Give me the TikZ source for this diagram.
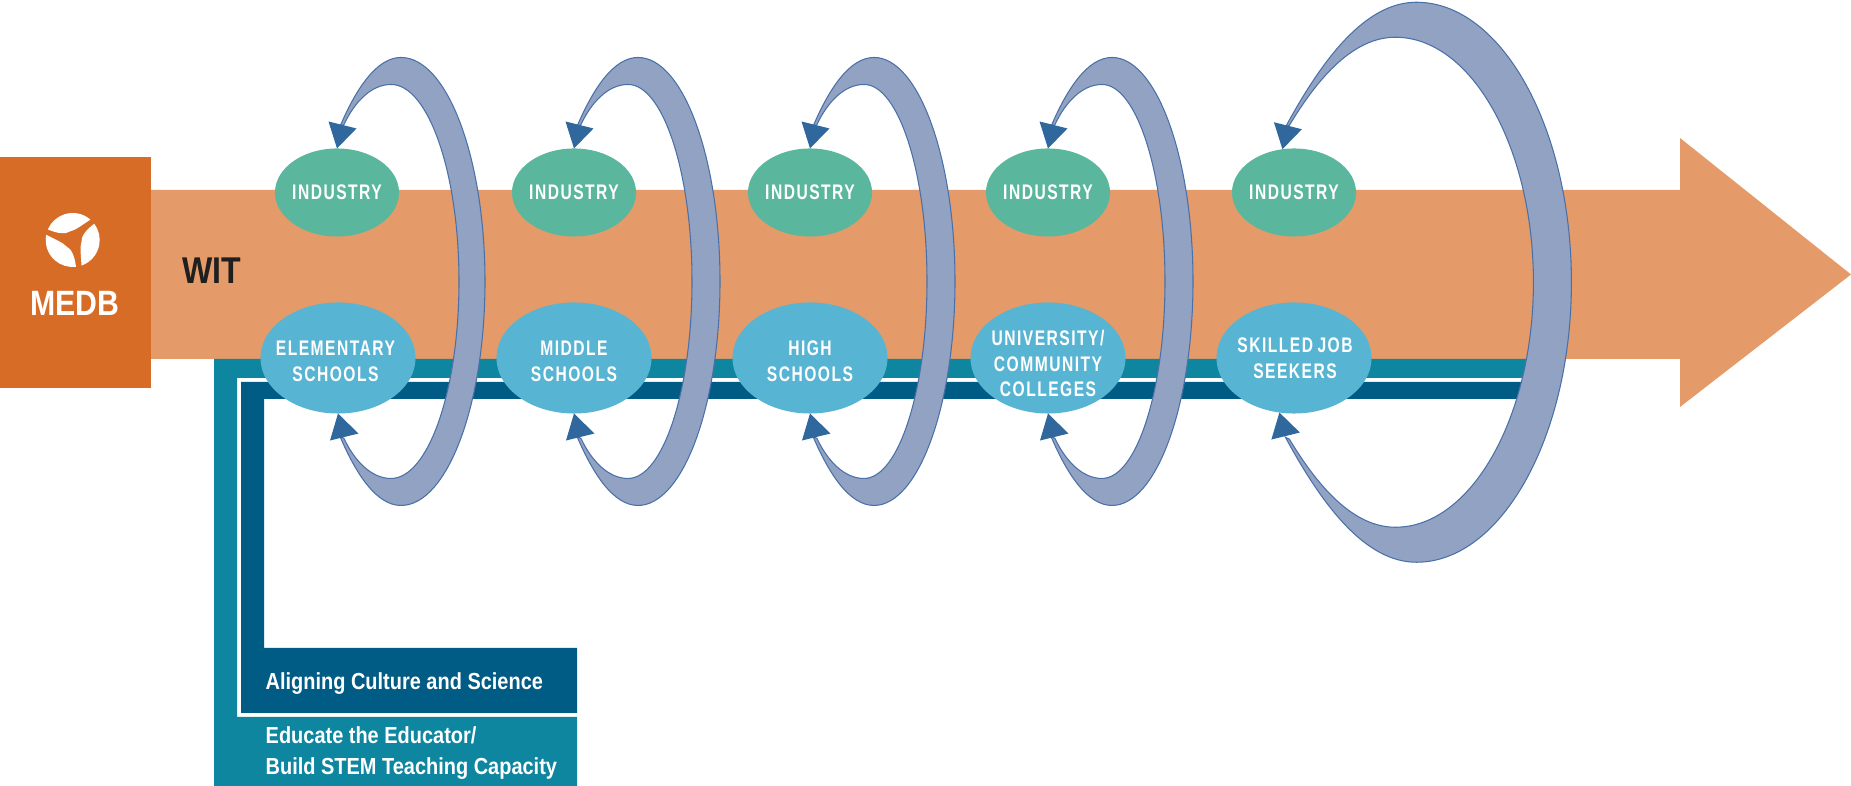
\documentclass[tikz,border=0pt]{standalone}
\usepackage{fontspec}
\setmainfont[FakeStretch=0.86]{Liberation Sans}
\newfontfamily\capsfont[FakeStretch=0.74,LetterSpace=7]{Liberation Sans}
\usetikzlibrary{shapes.geometric}
\definecolor{boxorange}{HTML}{D76C27}
\definecolor{arroworange}{HTML}{E49B69}
\definecolor{bandteal}{HTML}{0E86A0}
\definecolor{banddark}{HTML}{005B85}
\definecolor{industrygreen}{HTML}{5AB79D}
\definecolor{schoolblue}{HTML}{58B4D3}
\definecolor{loopfill}{HTML}{92A2C3}
\definecolor{loopline}{HTML}{4A70A8}
\definecolor{tipblue}{HTML}{30679D}

\begin{document}
\begin{tikzpicture}[
    x=0.01cm, y=-0.01cm,
    industry/.style={ellipse, fill=industrygreen, minimum width=1.24cm,
        minimum height=0.88cm, inner sep=0pt, outer sep=0pt},
    school/.style={ellipse, fill=schoolblue, minimum width=1.55cm,
        minimum height=1.11cm, inner sep=0pt, outer sep=0pt},
    ovaltext/.style={text=white, inner sep=0pt, align=center,
        font=\capsfont\bfseries\fontsize{6}{7.3}\selectfont},
    panel/.style={text=white, anchor=west, inner sep=0pt, align=left,
        font=\bfseries\fontsize{6.6}{8.9}\selectfont},
    crescent/.style={fill=loopfill, draw=loopline, line width=0.3pt},
    loophead/.style={fill=tipblue}
]
    \useasboundingbox (0,0) rectangle (1851,786);
    % main arrow and the bands
    \fill[arroworange] (100,190) -- (1680,190) -- (1680,138) -- (1851,274.5)
        -- (1680,407) -- (1680,359) -- (100,359) -- cycle;
    \fill[bandteal] (214,359) -- (1540,359) -- (1540,378) -- (237,378) -- (237,717)
        -- (577,717) -- (577,786) -- (214,786) -- cycle;
    \fill[banddark] (241,382) -- (1540,382) -- (1540,399) -- (264,399) -- (264,648)
        -- (577,648) -- (577,713) -- (241,713) -- cycle;
    \fill[boxorange] (0,157) rectangle (151,388);
    % logo
    \coordinate (swirl) at (72.7,240);
    \foreach \ang in {0,120,240} {
        \begin{scope}[shift={(swirl)}, x=0.01cm, y=0.01cm, rotate=\ang]
            \fill[white] (49:27) arc[start angle=49, end angle=157, radius=27]
                .. controls (157:16) and (142:9) .. (107:9)
                .. controls (77:10) and (62:15) .. (49:27) -- cycle;
        \end{scope}
    }
    \node[text=white, font=\bfseries\fontsize{10}{12}\selectfont] (medb) at (75,303) {MEDB};
    \node[text=black!88, font=\bfseries\fontsize{10.6}{12}\selectfont] (wit) at (212,271) {WIT};
    % ovals
    \node[industry] (upa) at (337,192.5) {};
    \node[industry] (upb) at (574,192.5) {};
    \node[industry] (upc) at (810,192.5) {};
    \node[industry] (upd) at (1048,192.5) {};
    \node[industry] (upe) at (1294,192.5) {};
    \node[school] (lowa) at (338,358) {};
    \node[school] (lowb) at (574,358) {};
    \node[school] (lowc) at (810,358) {};
    \node[school] (lowd) at (1048,358) {};
    \node[school] (lowe) at (1294,358) {};
    \foreach \n in {upa,upb,upc,upd,upe} {
        \node[ovaltext] (text\n) at (\n) {INDUSTRY};
    }
    \node[ovaltext] (textlowa) at (335.5,361.5) {ELEMENTARY\\SCHOOLS};
    \node[ovaltext] (textlowb) at (574,361.5) {MIDDLE\\SCHOOLS};
    \node[ovaltext] (textlowc) at (810,361.5) {HIGH\\SCHOOLS};
    \node[ovaltext] (textlowd) at (1048,363.5) {UNIVERSITY/\\COMMUNITY\\COLLEGES};
    \node[ovaltext] (textlowe) at (1295,358.5) {SKILLED\hspace{-0.4pt} JOB\\SEEKERS};
    % loops
    \foreach \upn/\lown/\ang/\outx/\outh/\outr/\innx/\innh/\innr in {
        upa/lowa/90/64/224/148/54/197/122,
        upb/lowb/90/64/224/146/54/197/118,
        upc/lowc/90/64/224/145/54/197/117,
        upd/lowd/90/64/224/145/54/197/117,
        upe/lowe/105/134/280/289/113/245/251} {
        \pgfmathsetmacro\outt{133-\outh}
        \pgfmathsetmacro\outb{133+\outh}
        \pgfmathsetmacro\innt{133-\innh}
        \pgfmathsetmacro\innb{133+\innh}
        \pgfmathsetmacro\outc{-22+0.55*(\outt+22)}
        \pgfmathsetmacro\innc{-24+0.55*(\innt+24)}
        \begin{scope}[shift={(\upn.\ang)}]
            \draw[crescent] (3,-22) .. controls ({0.3*\outx},\outc) and ({0.62*\outx},\outt) .. (\outx,\outt)
                .. controls ({\outx+0.55*(\outr-\outx)},\outt) and (\outr,{133-0.55*\outh}) .. (\outr,133)
                .. controls (\outr,{133+0.55*\outh}) and ({\outx+0.55*(\outr-\outx)},\outb) .. (\outx,\outb)
                .. controls ({0.62*\outx},\outb) and ({0.3*\outx},{266-\outc}) .. (3,288)
                -- (7,290) .. controls ({0.32*\innx},{266-\innc}) and ({0.63*\innx},\innb) .. (\innx,\innb)
                .. controls ({\innx+0.55*(\innr-\innx)},\innb) and (\innr,{133+0.55*\innh}) .. (\innr,133)
                .. controls (\innr,{133-0.55*\innh}) and ({\innx+0.55*(\innr-\innx)},\innt) .. (\innx,\innt)
                .. controls ({0.63*\innx},\innt) and ({0.32*\innx},\innc) .. (7,-24) -- cycle;
        \end{scope}
        \pgfmathsetmacro\lowang{360-\ang}
        \fill[loophead] (\upn.\ang) -- ++(-8.5,-27) -- ++(28,7) -- cycle;
        \fill[loophead] (\lown.\lowang) -- ++(-8,27) -- ++(28.5,-7) -- cycle;
    }
    % panel captions
    \node[panel] (culture) at (265,684) {Aligning Culture and Science};
    \node[panel] (educator) at (265,753) {Educate the Educator/\\Build STEM Teaching Capacity};
\end{tikzpicture}
\end{document}
